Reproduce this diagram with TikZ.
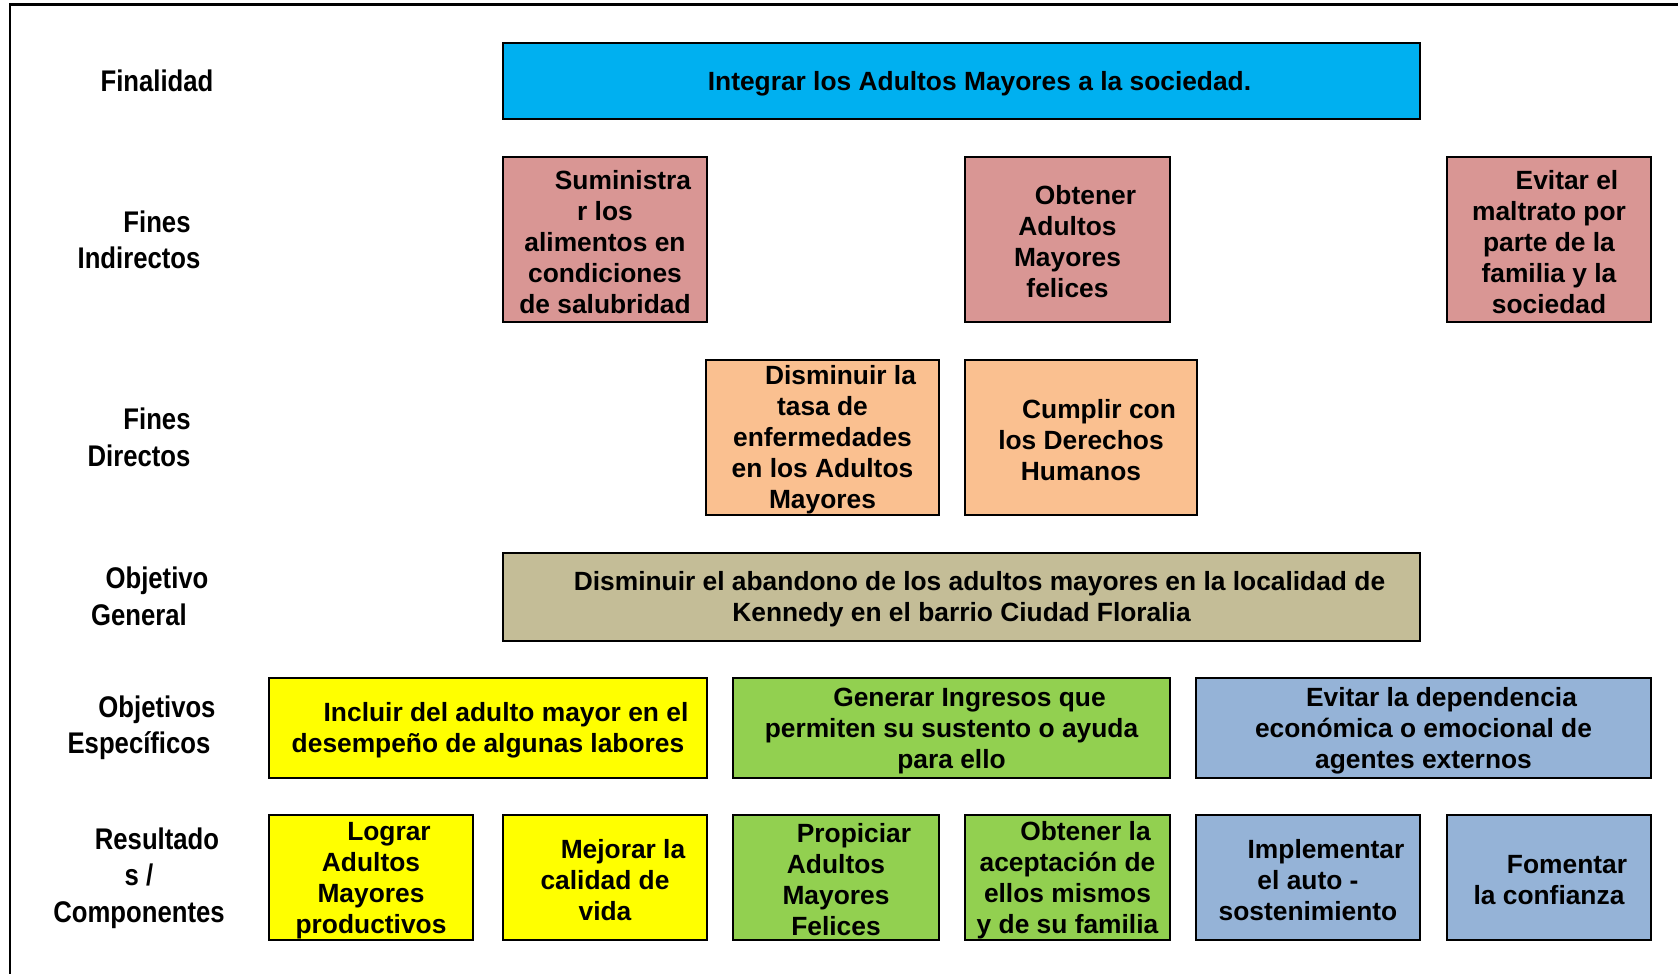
\documentclass[tikz,border=0pt]{standalone}
\usepackage{fontspec}
\setmainfont{Liberation Sans}
\newfontfamily\narrowfont[FakeStretch=0.86]{Liberation Sans}

\definecolor{azul}{HTML}{00B0F0}
\definecolor{rosa}{HTML}{D99694}
\definecolor{naranja}{HTML}{FAC090}
\definecolor{caqui}{HTML}{C4BD97}
\definecolor{amarillo}{HTML}{FFFF00}
\definecolor{verde}{HTML}{92D050}
\definecolor{celeste}{HTML}{95B3D7}

\newcommand\sangria{\hspace*{0.72cm}}
\newcommand\sangriac{\rule{0pt}{13.6pt}\hspace*{0.72cm}}

\begin{document}
\begin{tikzpicture}[x=0.02cm,y=-0.02cm,
        caja/.style={draw,line width=1.1pt,align=center,inner sep=0pt,
            font=\fontsize{15}{17.6}\selectfont\bfseries},
        tam/.style 2 args={minimum width=#1,minimum height=#2},
        etiqueta/.style={align=center,inner sep=0pt,
            font=\narrowfont\fontsize{17}{20.7}\selectfont\bfseries}]
    \useasboundingbox (0,0) rectangle (1678,974);
    % marco
    \draw[line width=1.7pt] (10,974) -- (10,4.5) -- (1678,4.5);

    % etiquetas de las filas
    \node[etiqueta] (lfin) at (139,81) {\sangria Finalidad};
    \node[etiqueta] (lfi) at (139,240) {\sangria Fines\\Indirectos};
    \node[etiqueta] (lfd) at (139,437.5) {\sangria Fines\\Directos};
    \node[etiqueta] (log) at (139,596.5) {\sangria Objetivo\\General};
    \node[etiqueta] (loe) at (139,728) {\sangria Objetivos\\Específicos};
    \node[etiqueta] (lres) at (139,878) {\sangria Resultado\\s /\\Componentes};

    % finalidad
    \node[caja,fill=azul,tam={18.34cm}{1.52cm}] (fin) at (961.5,81)
        {\sangriac Integrar los Adultos Mayores a la sociedad.};

    % fines indirectos
    \node[caja,fill=rosa,tam={4.08cm}{3.3cm}] (fi1) at (605,239.5)
        {\sangriac Suministra\\r los\\alimentos en\\condiciones\\de salubridad};
    \node[caja,fill=rosa,tam={4.1cm}{3.3cm}] (fi2) at (1067.5,239.5)
        {\sangriac Obtener\\Adultos\\Mayores\\felices};
    \node[caja,fill=rosa,tam={4.08cm}{3.3cm}] (fi3) at (1549,239.5)
        {\sangriac Evitar el\\maltrato por\\parte de la\\familia y la\\sociedad};

    % fines directos
    \node[caja,fill=naranja,tam={4.66cm}{3.1cm}] (fd1) at (822.5,437.5)
        {\sangriac Disminuir la\\tasa de\\enfermedades\\en los Adultos\\Mayores};
    \node[caja,fill=naranja,tam={4.64cm}{3.1cm}] (fd2) at (1081,437.5)
        {\sangriac Cumplir con\\los Derechos\\Humanos};

    % objetivo general
    \node[caja,fill=caqui,tam={18.34cm}{1.76cm}] (og) at (961.5,597)
        {\sangriac Disminuir el abandono de los adultos mayores en la localidad de\\Kennedy en el barrio Ciudad Floralia};

    % objetivos especificos
    \node[caja,fill=amarillo,tam={8.76cm}{2cm}] (oe1) at (488,728)
        {\sangriac Incluir del adulto mayor en el\\desempeño de algunas labores};
    \node[caja,fill=verde,tam={8.74cm}{2cm}] (oe2) at (951.5,728)
        {\sangriac Generar Ingresos que\\permiten su sustento o ayuda\\para ello};
    \node[caja,fill=celeste,tam={9.1cm}{2cm}] (oe3) at (1423.5,728)
        {\sangriac Evitar la dependencia\\económica o emocional de\\agentes externos};

    % resultados / componentes
    \node[caja,fill=amarillo,tam={4.08cm}{2.5cm}] (r1) at (371,877.5)
        {\sangriac Lograr\\Adultos\\Mayores\\productivos};
    \node[caja,fill=amarillo,tam={4.08cm}{2.5cm}] (r2) at (605,877.5)
        {\sangriac Mejorar la\\calidad de\\vida};
    \node[caja,fill=verde,tam={4.12cm}{2.5cm}] (r3) at (836,877.5)
        {\sangriac Propiciar\\Adultos\\Mayores\\Felices};
    \node[caja,fill=verde,tam={4.1cm}{2.5cm}] (r4) at (1067.5,877.5)
        {\sangriac Obtener la\\aceptación de\\ellos mismos\\y de su familia};
    \node[caja,fill=celeste,tam={4.48cm}{2.5cm}] (r5) at (1308,877.5)
        {\sangriac Implementar\\el auto -\\sostenimiento};
    \node[caja,fill=celeste,tam={4.08cm}{2.5cm}] (r6) at (1549,877.5)
        {\sangriac Fomentar\\la confianza};
\end{tikzpicture}
\end{document}
